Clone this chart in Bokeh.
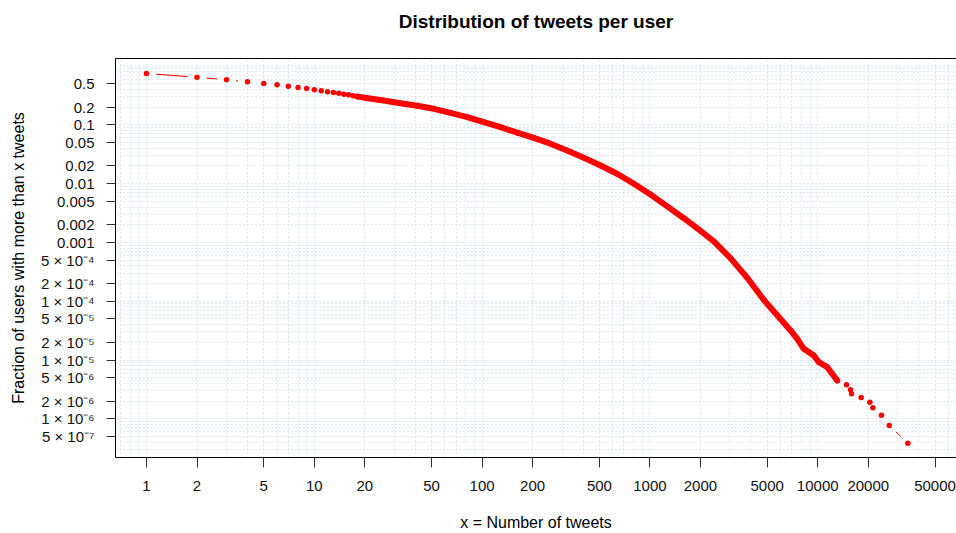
import math
from bokeh.plotting import figure
from bokeh.models import Range1d, FixedTicker, LogAxis
from bokeh.embed import file_html
from bokeh.resources import INLINE

# ---------------- data ----------------
title_text = "Distribution of tweets per user"
x_label = "x = Number of tweets"
y_label = "Fraction of users with more than x tweets"

x_ticks = [1, 2, 5, 10, 20, 50, 100, 200, 500, 1000, 2000, 5000, 10000, 20000, 50000]
x_tick_labels = ["1", "2", "5", "10", "20", "50", "100", "200", "500", "1000",
                 "2000", "5000", "10000", "20000", "50000"]
y_ticks = [0.5, 0.2, 0.1, 0.05, 0.02, 0.01, 0.005, 0.002, 0.001,
           5e-4, 2e-4, 1e-4, 5e-5, 2e-5, 1e-5, 5e-6, 2e-6, 1e-6, 5e-7]
y_tick_labels = ["0.5", "0.2", "0.1", "0.05", "0.02", "0.01", "0.005", "0.002", "0.001",
                 "5 × 10⁻⁴", "2 × 10⁻⁴", "1 × 10⁻⁴", "5 × 10⁻⁵", "2 × 10⁻⁵", "1 × 10⁻⁵",
                 "5 × 10⁻⁶", "2 × 10⁻⁶", "1 × 10⁻⁶", "5 × 10⁻⁷"]

# discrete points at the head of the distribution
head_tweets = [1, 2, 3, 4, 5, 6, 7, 8, 9, 10, 11, 12, 13, 14, 15, 16, 17]
head_frac = [0.745, 0.645, 0.583, 0.538, 0.504, 0.479, 0.453, 0.431, 0.414, 0.394,
             0.379, 0.364, 0.354, 0.345, 0.331, 0.324, 0.311]

# dense body (points overlap into a solid band)
body_tweets = [18, 19, 20, 25.9, 32.6, 41.0, 51.6, 64.8, 81.5, 102.4, 128.8, 161.9,
               203, 255.6, 321, 403.7, 508, 638, 802, 1008, 1268, 1592, 2003, 2404,
               3020, 3800, 4775, 6000, 6890, 7550, 8260, 9480, 10160, 11400, 13070]
body_frac = [0.303, 0.296, 0.288, 0.259, 0.233, 0.2105, 0.187, 0.160, 0.135, 0.1107,
             0.0911, 0.0735, 0.0600, 0.0478, 0.0366, 0.0275, 0.0203, 0.01469, 0.00993,
             0.00653, 0.00410, 0.00258, 0.00157, 0.00104, 5.4e-4, 2.5e-4, 1.05e-4,
             5.0e-5, 3.18e-5, 2.29e-5, 1.55e-5, 1.19e-5, 9.18e-6, 7.55e-6, 4.48e-6]

# sparse tail
tail_tweets = [14850, 15680, 15900, 18160, 20450, 21300, 23990, 26670, 34430]
tail_frac = [3.79e-6, 3.11e-6, 2.66e-6, 2.30e-6, 1.92e-6, 1.54e-6, 1.15e-6, 7.69e-7, 3.85e-7]

# ---------------- figure ----------------
W, H = 956, 533
BL, BR, BT, BB = 115, 0, 58, 76
x_start, x_end = 0.6536, 67140
y_start, y_end = 2.198e-7, 1.3415
FONT = "Liberation Sans"
RED = "#ff0000"

p = figure(width=W, height=H, x_axis_type="log", y_axis_type="log",
           x_range=Range1d(x_start, x_end), y_range=Range1d(y_start, y_end),
           output_backend="svg", toolbar_location=None,
           min_border_left=BL, min_border_right=BR, min_border_top=BT, min_border_bottom=BB)
p.outline_line_color = None
p.background_fill_color = "white"
p.border_fill_color = "white"

# grid: every k * 10^n
grid_x = [k * 10.0 ** n for n in range(-1, 5) for k in range(1, 10)
          if x_start <= k * 10.0 ** n <= x_end]
grid_y = [k * 10.0 ** n for n in range(-8, 1) for k in range(1, 10)
          if y_start <= k * 10.0 ** n <= y_end]
for g, t in ((p.xgrid, grid_x), (p.ygrid, grid_y)):
    g.ticker = FixedTicker(ticks=t)
    g.grid_line_color = "#bcd1ea"
    g.grid_line_dash = "1 3"
    g.grid_line_width = 1

def style_axis(ax):
    ax.axis_line_color = "black"
    ax.axis_line_width = 1
    ax.major_tick_line_color = "#333333"
    ax.minor_tick_line_color = None
    ax.major_tick_in = 0
    ax.major_label_text_font = FONT
    ax.major_label_text_font_size = "15px"
    ax.major_label_text_color = "#111111"
    ax.axis_label_text_font = FONT
    ax.axis_label_text_font_size = "16px"
    ax.axis_label_text_font_style = "normal"
    ax.axis_label_text_color = "black"

xa = p.xaxis[0]
style_axis(xa)
xa.ticker = FixedTicker(ticks=x_ticks)
xa.major_label_overrides = dict(zip(x_ticks, x_tick_labels))
xa.major_tick_out = 10
xa.major_label_standoff = 13
xa.axis_label = x_label
xa.axis_label_standoff = 20

ya = p.yaxis[0]
style_axis(ya)
ya.ticker = FixedTicker(ticks=y_ticks)
ya.major_label_overrides = dict(zip(y_ticks, y_tick_labels))
ya.major_label_orientation = "horizontal"
ya.major_tick_out = 9
ya.major_label_standoff = 12
ya.axis_label = y_label
ya.axis_label_standoff = 11

# top frame line, carrying the chart title
top = LogAxis(ticker=FixedTicker(ticks=[]), axis_line_color="black",
              major_tick_line_color=None, minor_tick_line_color=None,
              major_tick_out=0, major_tick_in=0, major_label_standoff=0,
              major_label_text_font_size="0px",
              axis_label=title_text, axis_label_standoff=27,
              axis_label_text_font=FONT, axis_label_text_font_size="19px",
              axis_label_text_font_style="bold", axis_label_text_color="black")
p.add_layout(top, "above")

# ---------------- marks ----------------
# type="b" style connecting line: segments with gaps around the points
all_x = head_tweets + body_tweets + tail_tweets
all_y = head_frac + body_frac + tail_frac
ppx = (W - BL - BR) / (math.log10(x_end) - math.log10(x_start))
ppy = (H - BT - BB) / (math.log10(y_end) - math.log10(y_start))
GAP = 9.5
sx0, sy0, sx1, sy1 = [], [], [], []
for i in range(len(all_x) - 1):
    lx1, ly1 = math.log10(all_x[i]), math.log10(all_y[i])
    lx2, ly2 = math.log10(all_x[i + 1]), math.log10(all_y[i + 1])
    d = math.hypot((lx2 - lx1) * ppx, (ly2 - ly1) * ppy)
    if d > 2 * GAP:
        t0, t1 = GAP / d, 1 - GAP / d
        sx0.append(10 ** (lx1 + t0 * (lx2 - lx1)))
        sy0.append(10 ** (ly1 + t0 * (ly2 - ly1)))
        sx1.append(10 ** (lx1 + t1 * (lx2 - lx1)))
        sy1.append(10 ** (ly1 + t1 * (ly2 - ly1)))
p.segment(sx0, sy0, sx1, sy1, line_color=RED, line_width=1)

# dense band of overlapping points
p.line(body_tweets, body_frac, line_color=RED, line_width=6,
       line_join="round", line_cap="round")

# individual points
p.scatter(all_x, all_y, marker="circle", size=5.5, fill_color=RED, line_color=None)

open("out.html", "w").write(file_html(p, INLINE))
